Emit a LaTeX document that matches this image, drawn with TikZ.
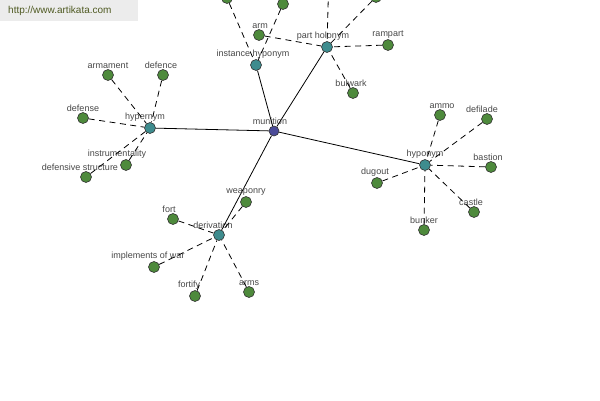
\documentclass[tikz,border=0pt]{standalone}
\usepackage{fontspec}
\setmainfont{Liberation Sans}
\usepackage{xcolor}
\usepackage{tikz}
\usetikzlibrary{positioning}
\definecolor{LeafGreen}{HTML}{4E8A3C}
\definecolor{RelTeal}{HTML}{3E8C8E}
\definecolor{HubBlue}{HTML}{4A4A98}
\definecolor{LabelGray}{HTML}{474747}
\definecolor{SiteOlive}{HTML}{4F5A22}
\definecolor{SiteBox}{HTML}{ECECEC}

\begin{document}
\begin{tikzpicture}[x=1pt, y=-1pt,
      lf/.style={circle, draw=black!80, fill=LeafGreen, line width=0.6pt,
                 inner sep=0pt, minimum size=11pt},
      rl/.style={lf, fill=RelTeal},
      hb/.style={lf, fill=HubBlue, minimum size=10pt},
      lbl/.style={font=\fontsize{9}{9}\selectfont, text=LabelGray,
                  inner sep=0.5pt},
      sl/.style={black, line width=0.8pt},
      dl/.style={black, line width=0.8pt, dash pattern=on 6pt off 4.5pt},
      site/.style={anchor=north west, fill=SiteBox, text=SiteOlive,
                   font=\fontsize{10}{10}\selectfont, inner xsep=8pt,
                   text width=122pt, minimum height=21pt, align=left},
    ]
      \useasboundingbox (0,0) rectangle (600,400);
      \clip (0,0) rectangle (600,400);
      \node[site] (url) at (0,0) {http://www.artikata.com};
      % hub and relations
      \node[hb, label={[lbl,xshift=-4pt]above:munition}] (mu) at (274,131) {};
      \node[rl, label={[lbl,xshift=-3pt]above:instance hyponym}] (ih) at (256,65) {};
      \node[rl, label={[lbl,xshift=-4pt]above:part holonym}] (ph) at (327,47) {};
      \node[rl, label={[lbl,xshift=-5pt]above:hypernym}] (he) at (150,128) {};
      \node[rl, label={[lbl]above:hyponym}] (ho) at (425,165) {};
      \node[rl, label={[lbl,xshift=-6pt]above:derivation}] (de) at (219,235) {};
      \draw[sl] (mu)--(ih); \draw[sl] (mu)--(ph); \draw[sl] (mu)--(he);
      \draw[sl] (mu)--(ho); \draw[sl] (mu)--(de);
      % instance hyponym
      \node[lf] (ih1) at (227,-2) {};
      \node[lf] (ih2) at (283,4) {};
      \draw[dl] (ih1)--(ih); \draw[dl] (ih2)--(ih);
      % part holonym
      \coordinate (ph1) at (329,-30);
      \node[lf] (ph2) at (376,-3) {};
      \node[lf, label={[lbl,xshift=1pt]above:arm}] (arm) at (259,35) {};
      \node[lf, label={[lbl]above:rampart}] (rampart) at (388,45) {};
      \node[lf, label={[lbl,xshift=-2pt]above:bulwark}] (bulwark) at (353,93) {};
      \draw[dl] (ph1)--(ph); \draw[dl] (ph2)--(ph); \draw[dl] (arm)--(ph);
      \draw[dl] (rampart)--(ph); \draw[dl] (bulwark)--(ph);
      % hypernym
      \node[lf, label={[lbl]above:armament}] (armament) at (108,75) {};
      \node[lf, label={[lbl,xshift=-2pt]above:defence}] (defence) at (163,75) {};
      \node[lf, label={[lbl]above:defense}] (defense) at (83,118) {};
      \node[lf, label={[lbl,xshift=-9pt]above:instrumentality}] (instr) at (126,165) {};
      \node[lf, label={[lbl,xshift=-6pt]above:defensive structure}] (defstr) at (86,177) {};
      \draw[dl] (armament)--(he); \draw[dl] (defence)--(he);
      \draw[dl] (defense)--(he); \draw[dl] (instr)--(he);
      \draw[dl] (defstr)--(he);
      % hyponym
      \node[lf, label={[lbl,xshift=2pt]above:ammo}] (ammo) at (440,115) {};
      \node[lf, label={[lbl,xshift=-5pt]above:defilade}] (defilade) at (487,119) {};
      \node[lf, label={[lbl,xshift=-3pt]above:bastion}] (bastion) at (491,167) {};
      \node[lf, label={[lbl,xshift=-3pt]above:castle}] (castle) at (474,212) {};
      \node[lf, label={[lbl]above:bunker}] (bunker) at (424,230) {};
      \node[lf, label={[lbl,xshift=-2pt]above:dugout}] (dugout) at (377,183) {};
      \draw[dl] (ammo)--(ho); \draw[dl] (defilade)--(ho);
      \draw[dl] (bastion)--(ho); \draw[dl] (castle)--(ho);
      \draw[dl] (bunker)--(ho); \draw[dl] (dugout)--(ho);
      % derivation
      \node[lf, label={[lbl]above:weaponry}] (weaponry) at (246,202) {};
      \node[lf, label={[lbl,xshift=-4pt]above:fort}] (fort) at (173,219) {};
      \node[lf, label={[lbl,xshift=-6pt]above:implements of war}] (impl) at (154,267) {};
      \node[lf, label={[lbl,xshift=-6pt]above:fortify}] (fortify) at (195,296) {};
      \node[lf, label={[lbl]above:arms}] (arms) at (249,292) {};
      \draw[dl] (weaponry)--(de); \draw[dl] (fort)--(de);
      \draw[dl] (impl)--(de); \draw[dl] (fortify)--(de);
      \draw[dl] (arms)--(de);
    \end{tikzpicture}
\end{document}
